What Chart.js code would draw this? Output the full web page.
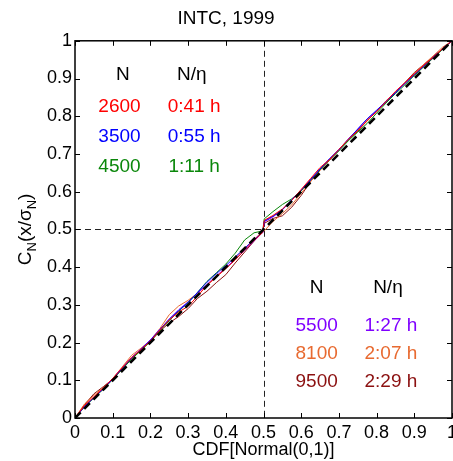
<!DOCTYPE html>
<html>
<head>
<meta charset="utf-8">
<script src="https://cdn.jsdelivr.net/npm/chart.js@4"></script>
<style>
  html, body { margin: 0; padding: 0; background: #fff; }
  #wrap { width: 453px; height: 461px; }
</style>
</head>
<body>
<div id="wrap"><canvas id="chart-pp"></canvas></div>
<script>
// CDF of normal (x) against empirical CDF (y), one array per N
const xs = [0, 0.025, 0.05, 0.075, 0.1, 0.125, 0.15, 0.175, 0.2, 0.225, 0.25, 0.275, 0.3, 0.325, 0.35, 0.375, 0.4, 0.425, 0.45, 0.475, 0.498,
  0.502, 0.525, 0.55, 0.575, 0.6, 0.625, 0.65, 0.675, 0.7, 0.725, 0.75, 0.775, 0.8, 0.825, 0.85, 0.875, 0.9, 0.925, 0.95, 0.975, 1];

const n2600 = [0, .033, .056, .079, .105, .133, .16, .181, .204, .233, .26, .281, .296, .323, .352, .375, .396, .419, .446, .471, .492,
  .524, .537, .554, .577, .606, .635, .664, .685, .712, .739, .762, .789, .812, .839, .866, .889, .912, .935, .956, .979, 1];
const n3500 = [0, .03, .054, .077, .103, .131, .159, .182, .206, .234, .262, .285, .306, .333, .36, .383, .404, .427, .45, .473, .492,
  .522, .535, .552, .579, .604, .631, .66, .687, .712, .739, .766, .793, .816, .839, .862, .887, .91, .933, .956, .979, 1];
const n4500 = [0, .029, .053, .076, .102, .129, .156, .179, .203, .231, .258, .283, .306, .333, .362, .385, .408, .437, .472, .491, .496,
  .528, .547, .566, .581, .602, .631, .658, .685, .708, .735, .758, .781, .808, .835, .86, .883, .908, .931, .954, .977, 1];
const n5500 = [0, .031, .055, .078, .104, .133, .16, .183, .207, .235, .262, .287, .308, .331, .354, .377, .398, .421, .444, .469, .492,
  .52, .533, .552, .577, .604, .633, .66, .687, .71, .739, .766, .793, .814, .837, .864, .887, .91, .933, .956, .979, 1];
const n8100 = [0, .037, .06, .081, .104, .135, .166, .185, .206, .237, .274, .297, .312, .331, .352, .373, .396, .423, .45, .473, .496,
  .496, .521, .542, .565, .596, .627, .656, .685, .71, .737, .764, .787, .814, .841, .864, .887, .914, .937, .96, .983, 1];
const n9500 = [0, .035, .064, .083, .103, .131, .158, .18, .203, .23, .252, .269, .29, .317, .336, .359, .38, .411, .44, .469, .494,
  .516, .529, .536, .559, .59, .627, .658, .683, .71, .737, .76, .789, .812, .839, .862, .889, .916, .937, .958, .979, 1];

const diagX = [0, 1];
const diagY = [0, 1];

const tickLabels = ["0", "0.1", "0.2", "0.3", "0.4", "0.5", "0.6", "0.7", "0.8", "0.9", "1"];

// the two little tables written inside the axes
const tableTopN = ["2600", "3500", "4500"];
const tableTopT = ["0:41 h", "0:55 h", "1:11 h"];
const tableBotN = ["5500", "8100", "9500"];
const tableBotT = ["1:27 h", "2:07 h", "2:29 h"];

const colors = ["#ff0000", "#0000ff", "#0a870a", "#7f00ff", "#e86a30", "#8b1010"];
const series = [n2600, n3500, n4500, n5500, n8100, n9500];
const seriesNames = ["2600", "3500", "4500", "5500", "8100", "9500"];

const FONT = "'Liberation Sans', Arial, sans-serif";

function pts(xv, yv) {
  return xv.map(function (x, i) { return { x: x, y: yv[i] }; });
}

const datasets = [
  {
    label: "diag",
    data: pts(diagX, diagY),
    borderColor: "#000",
    borderWidth: 2.6,
    borderDash: [8, 5],
    pointRadius: 0,
    tension: 0,
    fill: false,
  },
];
series.forEach(function (s, i) {
  datasets.push({
    label: seriesNames[i],
    data: pts(xs, s),
    borderColor: colors[i],
    borderWidth: 1,
    pointRadius: 0,
    tension: 0,
    fill: false,
  });
});

const decor = {
  id: "decor",
  beforeDatasetsDraw(chart) {
    const { ctx, chartArea: a, scales } = chart;
    const sx = scales.x, sy = scales.y;
    ctx.save();
    // crosshair at 0.5
    ctx.strokeStyle = "#222";
    ctx.lineWidth = 1;
    ctx.setLineDash([6, 4]);
    const px = Math.round(sx.getPixelForValue(0.5)) + 0.5;
    const py = Math.round(sy.getPixelForValue(0.5)) + 0.5;
    ctx.beginPath();
    ctx.moveTo(px, a.top);
    ctx.lineTo(px, a.bottom);
    ctx.moveTo(a.left, py);
    ctx.lineTo(a.right, py);
    ctx.stroke();
    ctx.restore();
  },
  afterDraw(chart) {
    const { ctx, chartArea: a, scales } = chart;
    const sx = scales.x, sy = scales.y;
    ctx.save();
    // box
    ctx.strokeStyle = "#000";
    ctx.lineWidth = 1.5;
    ctx.setLineDash([]);
    ctx.strokeRect(a.left, a.top, a.right - a.left, a.bottom - a.top);
    // inward ticks on all four sides
    const L = 5;
    ctx.lineWidth = 1;
    ctx.beginPath();
    tickLabels.forEach(function (t, i) {
      const v = i / 10;
      const x = Math.round(sx.getPixelForValue(v)) + 0.5;
      const y = Math.round(sy.getPixelForValue(v)) + 0.5;
      ctx.moveTo(x, a.bottom); ctx.lineTo(x, a.bottom - L);
      ctx.moveTo(x, a.top); ctx.lineTo(x, a.top + L);
      ctx.moveTo(a.left, y); ctx.lineTo(a.left + L, y);
      ctx.moveTo(a.right, y); ctx.lineTo(a.right - L, y);
    });
    ctx.stroke();

    // tables
    ctx.textAlign = "center";
    ctx.textBaseline = "middle";
    ctx.font = "19px " + FONT;
    function put(txt, vx, vy, col) {
      ctx.fillStyle = col;
      ctx.fillText(txt, sx.getPixelForValue(vx), sy.getPixelForValue(vy));
    }
    put("N", 0.127, 0.91, "#000");
    put("N/\u03b7", 0.31, 0.91, "#000");
    const topRows = [0.825, 0.745, 0.666];
    tableTopN.forEach(function (t, i) {
      put(t, 0.118, topRows[i], colors[i]);
      put(tableTopT[i], 0.316, topRows[i], colors[i]);
    });
    put("N", 0.641, 0.345, "#000");
    put("N/\u03b7", 0.83, 0.345, "#000");
    const botRows = [0.244, 0.17, 0.0955];
    tableBotN.forEach(function (t, i) {
      put(t, 0.641, botRows[i], colors[i + 3]);
      put(tableBotT[i], 0.838, botRows[i], colors[i + 3]);
    });

    // y axis title with subscripts: C_N(x/sigma_N)
    const parts = [["C", 19, 0], ["N", 13, 5], ["(x/\u03c3", 19, 0], ["N", 13, 5], [")", 19, 0]];
    let w = 0;
    parts.forEach(function (p) { ctx.font = p[1] + "px " + FONT; w += ctx.measureText(p[0]).width; });
    ctx.translate(31, (a.top + a.bottom) / 2);
    ctx.rotate(-Math.PI / 2);
    ctx.fillStyle = "#000";
    ctx.textAlign = "left";
    ctx.textBaseline = "alphabetic";
    let cx = -w / 2;
    parts.forEach(function (p) {
      ctx.font = p[1] + "px " + FONT;
      ctx.fillText(p[0], cx, p[2]);
      cx += ctx.measureText(p[0]).width;
    });
    ctx.restore();
  },
};

const ctx1 = document.getElementById("chart-pp").getContext("2d");
new Chart(ctx1, {
  type: "line",
  data: { datasets },
  plugins: [decor],
  options: {
    responsive: true,
    maintainAspectRatio: false,
    animation: false,
    layout: { autoPadding: false, padding: { left: 0, right: 1, top: 0, bottom: 0 } },
    plugins: {
      legend: { display: false },
      tooltip: { enabled: false },
      title: {
        display: true,
        text: "INTC, 1999",
        color: "#000",
        font: { size: 19, weight: "normal", family: FONT },
        padding: { top: 7, bottom: 11 },
      },
    },
    scales: {
      x: {
        type: "linear",
        min: 0,
        max: 1,
        afterFit(scale) {
          scale.height = 43;
          scale.paddingLeft = 0;
          scale.paddingRight = 0;
        },
        grid: { display: false, drawTicks: false },
        border: { display: false },
        ticks: {
          stepSize: 0.1,
          autoSkip: false,
          maxRotation: 0,
          padding: 4,
          color: "#000",
          font: { size: 18, family: FONT },
          callback: function (v, i) { return tickLabels[i]; },
        },
        title: {
          display: true,
          text: "CDF[Normal(0,1)]",
          color: "#000",
          padding: 0,
          font: { size: 18, family: FONT },
        },
      },
      y: {
        min: 0,
        max: 1,
        afterFit(scale) {
          scale.width = 75;
          scale.paddingTop = 0;
          scale.paddingBottom = 0;
        },
        grid: { display: false, drawTicks: false },
        border: { display: false },
        ticks: {
          stepSize: 0.1,
          autoSkip: false,
          padding: 3,
          color: "#000",
          font: { size: 18, family: FONT },
          callback: function (v, i) { return tickLabels[i]; },
        },
      },
    },
  },
});
</script>
</body>
</html>
